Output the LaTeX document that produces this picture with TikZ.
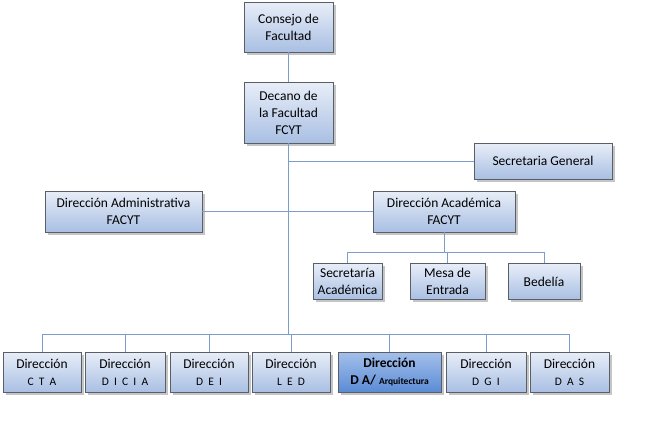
\documentclass[tikz,border=0pt]{standalone}
\usepackage{fontspec}
\setmainfont{Carlito}
\usetikzlibrary{shadows}
\usetikzlibrary{positioning}
\usetikzlibrary{calc}

\definecolor{boxtop}{HTML}{E8EEF8}
\definecolor{boxbot}{HTML}{A9BFE3}
\definecolor{seltop}{HTML}{A4C0EA}
\definecolor{selbot}{HTML}{5B8BD6}
\definecolor{linkcol}{HTML}{7D9CC9}
\definecolor{edgecol}{HTML}{5A5F66}

\newcommand{\gp}{\hspace{0.45em}}
\newcommand{\abbrfont}{\fontsize{11.5}{14}\selectfont}

\tikzset{
  unit/.style={draw=edgecol, line width=0.8pt, top color=boxtop, bottom color=boxbot,
    align=center, inner sep=1pt, font=\fontsize{13.5}{17}\selectfont,
    drop shadow={shadow xshift=2.5pt, shadow yshift=-2.5pt, fill=black!45}},
  selunit/.style={unit, top color=seltop, bottom color=selbot},
  link/.style={draw=linkcol, line width=0.9pt}
}

\begin{document}
\begin{tikzpicture}[x=1pt, y=-1pt]

\useasboundingbox (0,0) rectangle (652,432);

% top of the chart
\node[unit, minimum width=89pt, minimum height=50pt] (consejo) at (288.5,27) {Consejo de\\Facultad};
\node[unit, minimum width=89pt, minimum height=61pt] (decano) at (288.5,112.5) {Decano de\\la Facultad\\FCYT};
\node[unit, minimum width=138pt, minimum height=36pt] (secgen) at (543,161) {Secretaria General};

% directions
\node[unit, minimum width=157pt, minimum height=41pt] (diradm) at (123.5,211.5) {Dirección Administrativa\\FACYT};
\node[unit, minimum width=142pt, minimum height=41pt] (diracad) at (444,211.5) {Dirección Académica\\FACYT};

\node[unit, minimum width=69pt, minimum height=36pt] (secacad) at (347.5,281.5) {Secretaría\\Académica};
\node[unit, minimum width=75pt, minimum height=36pt] (mesa) at (447.5,281.5) {Mesa de\\Entrada};
\node[unit, minimum width=72pt, minimum height=36pt] (bedelia) at (544,281.5) {Bedelía};

% bottom row
\node[unit, minimum width=78pt, minimum height=40pt] (cta) at (42,372) {Dirección\\{\abbrfont C\gp T\gp A}};
\node[unit, minimum width=80pt, minimum height=40pt] (dicia) at (125,372) {Dirección\\{\abbrfont D\gp I\gp C\gp I\gp A}};
\node[unit, minimum width=78pt, minimum height=40pt] (dei) at (209,372) {Dirección\\{\abbrfont D\gp E\gp I}};
\node[unit, minimum width=78pt, minimum height=40pt] (led) at (291,372) {Dirección\\{\abbrfont L\gp E\gp D}};
\node[selunit, minimum width=103pt, minimum height=40pt] (da) at (389.5,372) {\textbf{Dirección}\\\textbf{D A/} {\fontsize{9.5}{10}\selectfont\textbf{Arquitectura}}};
\node[unit, minimum width=80pt, minimum height=40pt] (dgi) at (486,372) {Dirección\\{\abbrfont D\gp G\gp I}};
\node[unit, minimum width=79pt, minimum height=40pt] (das) at (569.5,372) {Dirección\\{\abbrfont D\gp A\gp S}};

\coordinate (bus) at (288.5,334);
\coordinate (acbus) at (444,252);

\draw[link] (consejo) -- (decano);
\draw[link] (decano) -- (bus);
\draw[link] (decano.south |- secgen.west) -- (secgen);
\draw[link] (diradm) -- (diracad);
\draw[link] (diracad) -- (acbus);
\draw[link] (secacad.north |- acbus) -- (bedelia.north |- acbus);
\foreach \n in {secacad,mesa,bedelia}
  \draw[link] (\n.north |- acbus) -- (\n);
\draw[link] (cta.north |- bus) -- (das.north |- bus);
\foreach \n in {cta,dicia,dei,led,da,dgi,das}
  \draw[link] (\n.north |- bus) -- (\n);

\end{tikzpicture}
\end{document}
